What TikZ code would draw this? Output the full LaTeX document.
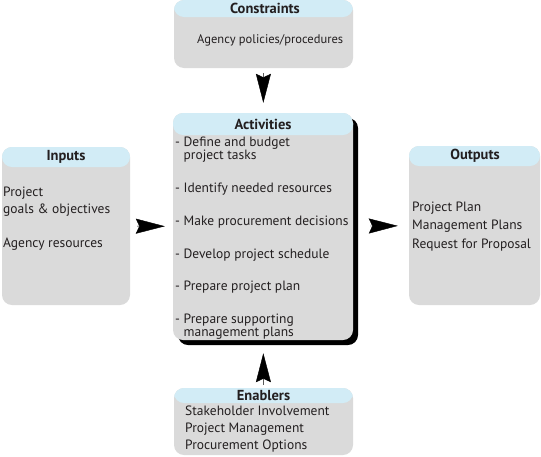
\documentclass[tikz,border=0pt]{standalone}
\usepackage{fontspec}
\setmainfont{PT Sans}
\usetikzlibrary{arrows.meta,shadows}

\definecolor{headblue}{RGB}{210,236,246}
\definecolor{bodygray}{RGB}{218,218,218}
\definecolor{inkblack}{RGB}{35,31,32}

\begin{document}
\begin{tikzpicture}[
    x=1pt, y=-1pt,
    box/.style={fill=bodygray, rounded corners=10pt, inner sep=0pt,
        path picture={\fill[headblue] (path picture bounding box.north west)
            rectangle ([yshift=-#1]path picture bounding box.north east);}},
    title/.style={font=\fontsize{14.5}{16}\selectfont\bfseries, text=inkblack, inner sep=0pt},
    body/.style={font=\fontsize{13.5}{17}\selectfont, text=inkblack, align=left, anchor=west, inner sep=0pt},
    item/.style={body, font=\fontsize{13.5}{13}\selectfont},
    flow/.style={-{Stealth[length=29pt, width=15pt, inset=3.5pt]}, line width=0.4pt}
]
\useasboundingbox (0,0) rectangle (541,456);

\node[box=17pt, minimum width=179pt, minimum height=68pt] at (263.5,34) (cons) {};
\node[box=22pt, minimum width=180pt, minimum height=227pt,
      drop shadow={shadow xshift=5pt, shadow yshift=-5pt, fill=black, opacity=1}] at (263,226.5) (act) {};
\node[box=20pt, minimum width=128pt, minimum height=158pt] at (66,226) (inp) {};
\node[box=20pt, minimum width=131pt, minimum height=159pt] at (474.5,225.5) (outp) {};
\node[box=15pt, minimum width=179pt, minimum height=67pt] at (263.5,421.5) (ena) {};

% box titles
\node[title] at (265,8.5) (constitle) {Constraints};
\node[title] at (263,124) (acttitle) {Activities};
\node[title] at (66,157) (inptitle) {Inputs};
\node[title] at (475,156) (outptitle) {Outputs};
\node[title] at (263.5,396) (enatitle) {Enablers};

% box contents
\node[body, font=\fontsize{12.5}{15}\selectfont] at (197,40) (constext) {Agency policies/procedures};

\node[item] at (175,149.5) (act1) {- Define and budget\\\hphantom{- }project tasks};
\node[item] at (175,189) (act2) {- Identify needed resources};
\node[item] at (175,222) (act3) {- Make procurement decisions};
\node[item] at (175,255) (act4) {- Develop project schedule};
\node[item] at (175,287) (act5) {- Prepare project plan};
\node[item] at (175,326.5) (act6) {- Prepare supporting\\\hphantom{- }management plans};

\node[body] at (3,201.5) (inp1) {Project\\goals \& objectives};
\node[body] at (3,244) (inp2) {Agency resources};

\node[body, font=\fontsize{13.5}{18.5}\selectfont] at (412,226.5) (outp1) {Project Plan\\Management Plans\\Request for Proposal};

\node[body] at (185,429) (ena1) {Stakeholder Involvement\\Project Management\\Procurement Options};

% arrows between boxes
\draw[flow, shorten <=5pt, shorten >=10pt] (cons) -- (act);
\draw[flow, shorten <=7pt, shorten >=8pt] (inp) -- (act);
\draw[flow, shorten <=17pt, shorten >=11pt] (act) -- (outp);
\draw[flow, shorten <=3pt, shorten >=13pt] (ena) -- (act);
\end{tikzpicture}
\end{document}
